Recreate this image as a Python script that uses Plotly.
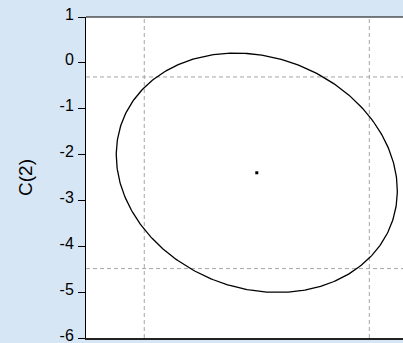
import numpy as np
import plotly.graph_objects as go

# Coefficient estimates and their sampling distribution
coef_names = ["C(1)", "C(2)"]
coef_est = [1.85, -2.397]
coef_se = [0.598, 1.066]
coef_corr = -0.15

# 95% levels: joint (chi-square, 2 df) and individual (normal)
chi2_95_2df = 5.991
z_95 = 1.96

y_tick_vals = [1, 0, -1, -2, -3, -4, -5, -6]
y_tick_text = ["1", "0", "-1", "-2", "-3", "-4", "-5", "-6"]

# Confidence ellipse from the covariance matrix
cov = np.array([
    [coef_se[0] ** 2, coef_corr * coef_se[0] * coef_se[1]],
    [coef_corr * coef_se[0] * coef_se[1], coef_se[1] ** 2],
])
L = np.linalg.cholesky(cov)
t = np.linspace(0, 2 * np.pi, 361)
circle = np.vstack([np.cos(t), np.sin(t)]) * np.sqrt(chi2_95_2df)
ell = L @ circle
ex = ell[0] + coef_est[0]
ey = ell[1] + coef_est[1]

x_lo = coef_est[0] - z_95 * coef_se[0]
x_hi = coef_est[0] + z_95 * coef_se[0]
y_lo = coef_est[1] - z_95 * coef_se[1]
y_hi = coef_est[1] + z_95 * coef_se[1]

x_range = [0.071, 3.373]
y_range = [-6.0, 1.0]

fig = go.Figure()

grid_style = dict(color="#a6a6a6", width=1, dash="4px,3px")
for xv in (x_lo, x_hi):
    fig.add_trace(go.Scatter(x=[xv, xv], y=y_range, mode="lines",
                             line=grid_style, hoverinfo="skip", showlegend=False))
for yv in (y_lo, y_hi):
    fig.add_trace(go.Scatter(x=x_range, y=[yv, yv], mode="lines",
                             line=grid_style, hoverinfo="skip", showlegend=False))

fig.add_trace(go.Scatter(x=ex, y=ey, mode="lines",
                         line=dict(color="black", width=1.3),
                         showlegend=False))
fig.add_trace(go.Scatter(x=[coef_est[0]], y=[coef_est[1]], mode="markers",
                         marker=dict(color="black", size=3, symbol="square"),
                         showlegend=False))

# top frame line
fig.add_shape(type="line", xref="paper", yref="paper", x0=0, x1=1, y0=1, y1=1,
              line=dict(color="black", width=1))

fig.update_layout(
    width=403, height=343,
    margin=dict(l=86, r=0, t=17, b=5),
    paper_bgcolor="#d6e6f5",
    plot_bgcolor="white",
    font=dict(family="Liberation Sans, Arial, sans-serif", color="black"),
    showlegend=False,
)
fig.update_xaxes(range=x_range, showgrid=False, zeroline=False,
                 showticklabels=False, ticks="", automargin=False,
                 showline=True, linecolor="#222222", linewidth=2)
fig.update_yaxes(range=y_range, showgrid=False, zeroline=False, automargin=False,
                 tickvals=y_tick_vals, ticktext=y_tick_text,
                 ticks="outside", ticklen=7, tickcolor="black", tickwidth=1,
                 tickfont=dict(size=16, family="Liberation Sans, Arial, sans-serif"),
                 ticklabelstandoff=1, ticklabelshift=-3, ticklabeloverflow="allow",
                 showline=True, linecolor="black", linewidth=1,
                 title=dict(text=coef_names[1], standoff=21,
                            font=dict(size=19, family="Liberation Sans, Arial, sans-serif")))

fig.write_html("out.html")
